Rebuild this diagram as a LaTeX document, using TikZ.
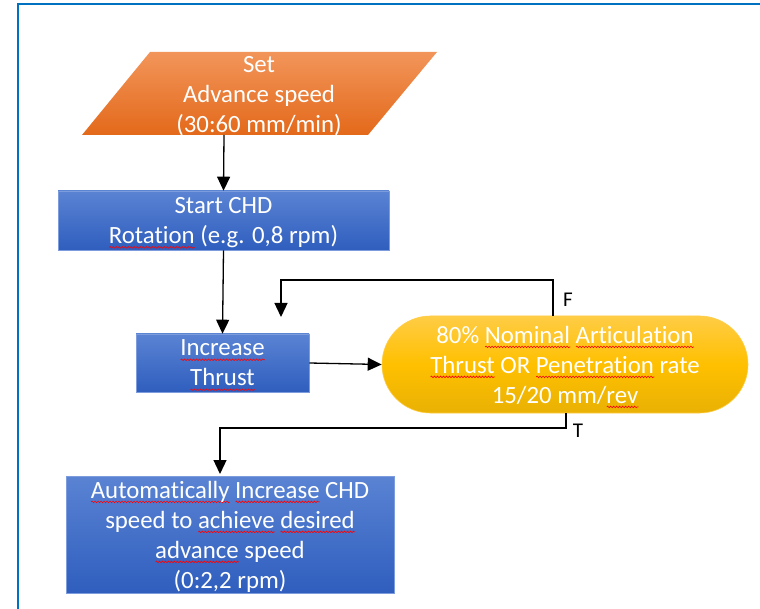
\documentclass[tikz,border=0pt]{standalone}
\usepackage{fontspec}
\setmainfont{Carlito}[Ligatures=NoCommon]
\usetikzlibrary{arrows.meta,shapes.misc,decorations.pathmorphing}
\definecolor{frameblue}{HTML}{0070C0}
\definecolor{btop}{HTML}{5A83D3}
\definecolor{bbot}{HTML}{2F5EBE}
\definecolor{bline}{HTML}{7D9CDD}
\definecolor{otop}{HTML}{F2955A}
\definecolor{obot}{HTML}{E3691A}
\definecolor{ytop}{HTML}{FFCC45}
\definecolor{ymid}{HTML}{FFC000}
\definecolor{ybot}{HTML}{E9B104}
\newlength\sqw
\newcommand\sq[1]{\settowidth\sqw{#1}\leavevmode\rlap{\raisebox{-3.8pt}{\tikz[baseline=0pt]\draw[red,line width=0.6pt,decorate,decoration={snake,amplitude=0.8pt,segment length=3pt}](0pt,0pt)--(\the\sqw,0pt);}}#1}
\begin{document}
\begin{tikzpicture}[x=1pt,y=-1pt,
  txt/.style={text=white,align=center,font=\fontsize{24.8}{30}\selectfont},
  lowtxt/.style={text depth=0pt},
  bluebox/.style={txt,lowtxt,rectangle,draw=bline,line width=0.6pt,top color=btop,bottom color=bbot,inner sep=0pt},
  ovalbox/.style={txt,lowtxt,rounded rectangle,draw=ytop,line width=0.6pt,top color=ytop,bottom color=ybot,middle color=ymid,inner sep=0pt},
  conn/.style={black,line width=1.3pt,-{Triangle[length=14pt,width=13pt]}},
  lbl/.style={text=black,font=\fontsize{21}{24}\selectfont,inner sep=0pt}]
\useasboundingbox (0,0) rectangle (760,609);
% frame
\draw[frameblue,line width=2pt] (760,4) -- (18,4) -- (18,612);
% parallelogram
\shade[top color=otop,bottom color=obot] (150,52) -- (437,52) -- (368,135) -- (82,135) -- cycle;
\node[txt] (set) at (259,96) {Set\\Advance speed\\(30:60 mm/min)};
\coordinate (setb) at (224,135);
% boxes
\node[bluebox,minimum width=331pt,minimum height=59pt] (start) at (223.5,220.5) {Start CHD\\\sq{Rotation} (e.g. 0,8 rpm)};
\node[bluebox,minimum width=173pt,minimum height=58pt] (inc) at (222.5,363) {\sq{Increase}\\\sq{Thrust}};
\node[ovalbox,minimum width=366pt,minimum height=97pt] (dec) at (565,364.5) {80\% \sq{Nominal} \sq{Articulation}\\\sq{Thrust} OR \sq{Penetration} rate\\15/20 mm/\sq{rev}};
\node[bluebox,minimum width=328pt,minimum height=117pt] (auto) at (230,534.5) {\sq{Automatically} \sq{Increase} CHD\\speed to \sq{achieve} \sq{desired}\\\sq{advance} speed\\(0:2,2 rpm)};
% connectors
\draw[conn] (setb) -- (start.north);
\draw[conn] (start.south) -- (inc.north);
\draw[conn] (inc.east) -- (dec.west);
\coordinate (fcorner) at (553,280);
\coordinate (fend) at (281,317);
\draw[conn] (dec.north -| fcorner) -- (fcorner) -| (fend);
\coordinate (tcorner) at (566,428);
\coordinate (tend) at (220,474);
\draw[conn] (dec.south -| tcorner) -- (tcorner) -| (tend);
\node[lbl] (F) at (568,300) {F};
\node[lbl] (T) at (578,431) {T};
\end{tikzpicture}
\end{document}
